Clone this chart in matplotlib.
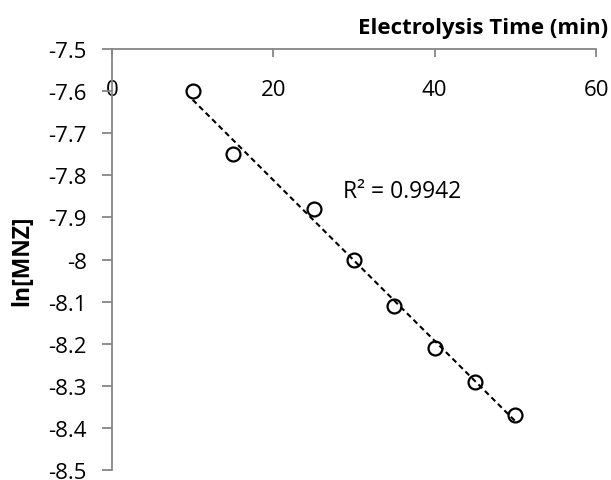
import matplotlib
matplotlib.use("Agg")
import matplotlib.pyplot as plt
import numpy as np

time_min = [10, 15, 25, 30, 35, 40, 45, 50]
ln_mnz = [-7.60, -7.75, -7.88, -8.00, -8.11, -8.21, -8.29, -8.37]
x_ticks = [0, 20, 40, 60]
y_ticks = [-7.5, -7.6, -7.7, -7.8, -7.9, -8.0, -8.1, -8.2, -8.3, -8.4, -8.5]
y_tick_labels = ["-7.5", "-7.6", "-7.7", "-7.8", "-7.9", "-8", "-8.1", "-8.2", "-8.3", "-8.4", "-8.5"]
r2_text = "R² = 0.9942"

plt.rcParams['font.family'] = ['Open Sans', 'DejaVu Sans']

fig = plt.figure(figsize=(6.11, 4.81), dpi=100)
ax = fig.add_axes([0.1833, 0.0208, 0.9755 - 0.1833, 0.896 - 0.0208])

x = np.array(time_min, dtype=float)
y = np.array(ln_mnz, dtype=float)
coef = np.polyfit(x, y, 1)
xf = np.array([x.min(), x.max()])
ax.plot(xf, np.polyval(coef, xf), linestyle=(0, (2.6, 1.8)), color='black', linewidth=1.5, zorder=2)
ax.plot(x, y, linestyle='none', marker='o', markersize=10, markerfacecolor='none',
        markeredgecolor='black', markeredgewidth=1.6, zorder=3)

ax.set_xlim(0, 60)
ax.set_ylim(-8.5, -7.5)
ax.set_xticks(x_ticks)
ax.set_yticks(y_ticks)
ax.set_yticklabels(y_tick_labels)

axis_color = '#868686'
for s in ['right', 'bottom']:
    ax.spines[s].set_visible(False)
for s in ['top', 'left']:
    ax.spines[s].set_color(axis_color)
    ax.spines[s].set_linewidth(1.3)

ax.xaxis.set_ticks_position('top')
ax.tick_params(axis='x', direction='in', length=6, color=axis_color, width=1.3,
               labeltop=True, labelbottom=False, pad=-36.5, labelsize=16)
ax.tick_params(axis='y', direction='out', length=7, color=axis_color, width=1.3, labelsize=16, pad=11)

fig.text(0.995, 0.94, "Electrolysis Time (min)", ha='right', va='center', fontsize=16, fontweight='bold')
fig.text(0.036, 0.457, "ln[MNZ]", rotation=90, ha='center', va='center', fontsize=16.5, fontweight='bold')

ax.text(28.6, -7.837, r2_text, fontsize=16.5, ha='left', va='center')

fig.savefig("out.png", dpi=100)
